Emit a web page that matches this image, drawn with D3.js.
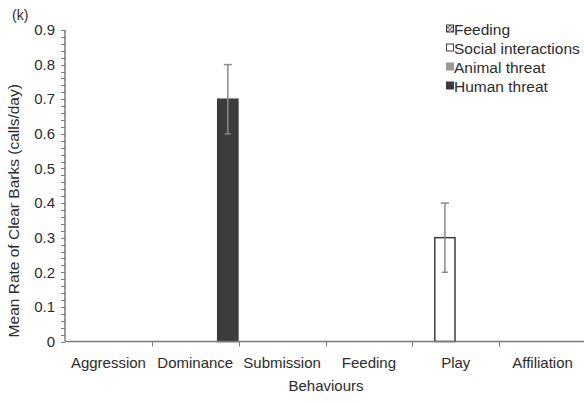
<!DOCTYPE html>
<html>
<head>
<meta charset="utf-8">
<script src="https://cdn.jsdelivr.net/npm/d3@7/dist/d3.min.js"></script>
<style>
  html, body { margin: 0; padding: 0; background: #fff; }
  svg { display: block; }
  text { font-family: "Liberation Sans", Arial, sans-serif; fill: #2b2b2b; }
</style>
</head>
<body>
<svg id="chart" width="584" height="403"></svg>
<script>
// Behaviour categories on the x axis
const categories = ["Aggression", "Dominance", "Submission", "Feeding", "Play", "Affiliation"];
// Context series (legend order)
const seriesNames = ["Feeding", "Social interactions", "Animal threat", "Human threat"];
// Mean rate per category for each series (calls/day)
const feedingValues = [0, 0, 0, 0, 0, 0];
const socialValues  = [0, 0, 0, 0, 0.3, 0];
const animalValues  = [0, 0, 0, 0, 0, 0];
const humanValues   = [0, 0.7, 0, 0, 0, 0];
// Error bar half-widths
const feedingErr = [0, 0, 0, 0, 0, 0];
const socialErr  = [0, 0, 0, 0, 0.1, 0];
const animalErr  = [0, 0, 0, 0, 0, 0];
const humanErr   = [0, 0.1, 0, 0, 0, 0];
// y tick labels
const yTicks = [0, 0.1, 0.2, 0.3, 0.4, 0.5, 0.6, 0.7, 0.8, 0.9];

const seriesValues = [feedingValues, socialValues, animalValues, humanValues];
const seriesErrors = [feedingErr, socialErr, animalErr, humanErr];
const fills = ["url(#hatch)", "#ffffff", "#9a9a9a", "#3c3c3c"];
const strokes = ["#3c3c3c", "#3c3c3c", "#9a9a9a", "#3c3c3c"];

const svg = d3.select("#chart");
const margin = { left: 65, top: 30, bottom: 61 };
const H = 403;
const plotRight = 586;

const defs = svg.append("defs");
const pat = defs.append("pattern").attr("id", "hatch")
  .attr("width", 4).attr("height", 4).attr("patternUnits", "userSpaceOnUse");
pat.append("rect").attr("width", 4).attr("height", 4).attr("fill", "#fff");
pat.append("path").attr("d", "M0,0L4,4M4,0L0,4").attr("stroke", "#3c3c3c").attr("stroke-width", 0.8);

const y = d3.scaleLinear().domain([0, 0.9]).range([H - margin.bottom - 0.5, margin.top]);
const x0 = d3.scaleBand().domain(categories).range([margin.left, plotRight]).padding(0);
const x1 = d3.scaleBand().domain(seriesNames).range([0, x0.bandwidth()]).padding(0);

// Y axis with minor ticks every 0.02
const yAxisG = svg.append("g").attr("transform", `translate(${margin.left},0)`);
const minor = d3.range(0, 0.9001, 0.02);
yAxisG.selectAll("line.minor").data(minor).join("line")
  .attr("x1", -4).attr("x2", 0)
  .attr("y1", d => Math.round(y(d)) + 0.5).attr("y2", d => Math.round(y(d)) + 0.5)
  .attr("stroke", "#7a7a7a").attr("stroke-width", 1);
yAxisG.append("line").attr("x1", 0).attr("x2", 0)
  .attr("y1", y(0)).attr("y2", y(0.9))
  .attr("stroke", "#7a7a7a").attr("stroke-width", 1.5);
yAxisG.selectAll("text.tick").data(yTicks).join("text")
  .attr("x", -10).attr("y", d => y(d)).attr("dy", "0.35em")
  .attr("text-anchor", "end").attr("font-size", 15)
  .text(d => d === 0 ? "0" : d3.format(".1f")(d));

// Bars
const groups = svg.append("g").selectAll("g").data(categories).join("g")
  .attr("transform", c => `translate(${x0(c)},0)`);
groups.selectAll("rect").data((c, i) => seriesNames.map((s, k) => ({ s, k, v: seriesValues[k][i], e: seriesErrors[k][i] })).filter(d => d.v > 0))
  .join("rect")
  .attr("x", d => x1(d.s) + 0.75).attr("width", x1.bandwidth() - 1.5)
  .attr("y", d => y(d.v)).attr("height", d => y(0) - y(d.v))
  .attr("fill", d => fills[d.k]).attr("stroke", d => strokes[d.k]).attr("stroke-width", 1.5);

// Error bars
const eb = groups.selectAll("g.err").data((c, i) => seriesNames.map((s, k) => ({ s, k, v: seriesValues[k][i], e: seriesErrors[k][i] })).filter(d => d.e > 0))
  .join("g").attr("class", "err");
eb.append("line")
  .attr("x1", d => x1(d.s) + x1.bandwidth() / 2).attr("x2", d => x1(d.s) + x1.bandwidth() / 2)
  .attr("y1", d => y(d.v + d.e)).attr("y2", d => y(d.v - d.e))
  .attr("stroke", "#8a8a8a").attr("stroke-width", 1.5);
eb.append("line")
  .attr("x1", d => x1(d.s) + x1.bandwidth() / 2 - 4).attr("x2", d => x1(d.s) + x1.bandwidth() / 2 + 4)
  .attr("y1", d => y(d.v + d.e)).attr("y2", d => y(d.v + d.e))
  .attr("stroke", "#8a8a8a").attr("stroke-width", 1.5);
eb.append("line")
  .attr("x1", d => x1(d.s) + x1.bandwidth() / 2 - 3).attr("x2", d => x1(d.s) + x1.bandwidth() / 2 + 3)
  .attr("y1", d => y(d.v - d.e)).attr("y2", d => y(d.v - d.e))
  .attr("stroke", "#8a8a8a").attr("stroke-width", 1.5);

// X axis
const xAxisG = svg.append("g").attr("transform", `translate(0,${y(0)})`);
xAxisG.append("line").attr("x1", margin.left).attr("x2", plotRight)
  .attr("stroke", "#7a7a7a").attr("stroke-width", 1.5);
const bounds = categories.map(c => x0(c)).slice(1);
xAxisG.selectAll("line.tk").data(bounds).join("line")
  .attr("x1", d => Math.round(d) + 0.5).attr("x2", d => Math.round(d) + 0.5)
  .attr("y1", 0).attr("y2", 5)
  .attr("stroke", "#7a7a7a").attr("stroke-width", 1);
xAxisG.selectAll("text").data(categories).join("text")
  .attr("x", c => x0(c) + x0.bandwidth() / 2).attr("y", 26)
  .attr("text-anchor", "middle").attr("font-size", 15)
  .text(c => c);

// Axis titles
svg.append("text").attr("x", 326).attr("y", 391)
  .attr("text-anchor", "middle").attr("font-size", 15).text("Behaviours");
svg.append("text")
  .attr("transform", `translate(19,${(y(0) + y(0.9)) / 2 + 25}) rotate(-90)`)
  .attr("text-anchor", "middle").attr("font-size", 15.5)
  .text("Mean Rate of Clear Barks (calls/day)");

// Panel letter
svg.append("text").attr("x", 12).attr("y", 20).attr("font-size", 14).text("(k)");

// Legend
const legend = svg.append("g").attr("transform", "translate(446,29.5)");
const li = legend.selectAll("g").data(seriesNames).join("g")
  .attr("transform", (d, i) => `translate(0,${i * 19})`);
li.append("rect").attr("x", 0.5).attr("y", -4.5).attr("width", 7).attr("height", 7)
  .attr("fill", (d, i) => fills[i]).attr("stroke", (d, i) => strokes[i]).attr("stroke-width", 1);
li.append("text").attr("x", 8).attr("y", 0).attr("dy", "0.35em")
  .attr("font-size", 15.5).text(d => d);
</script>
</body>
</html>
